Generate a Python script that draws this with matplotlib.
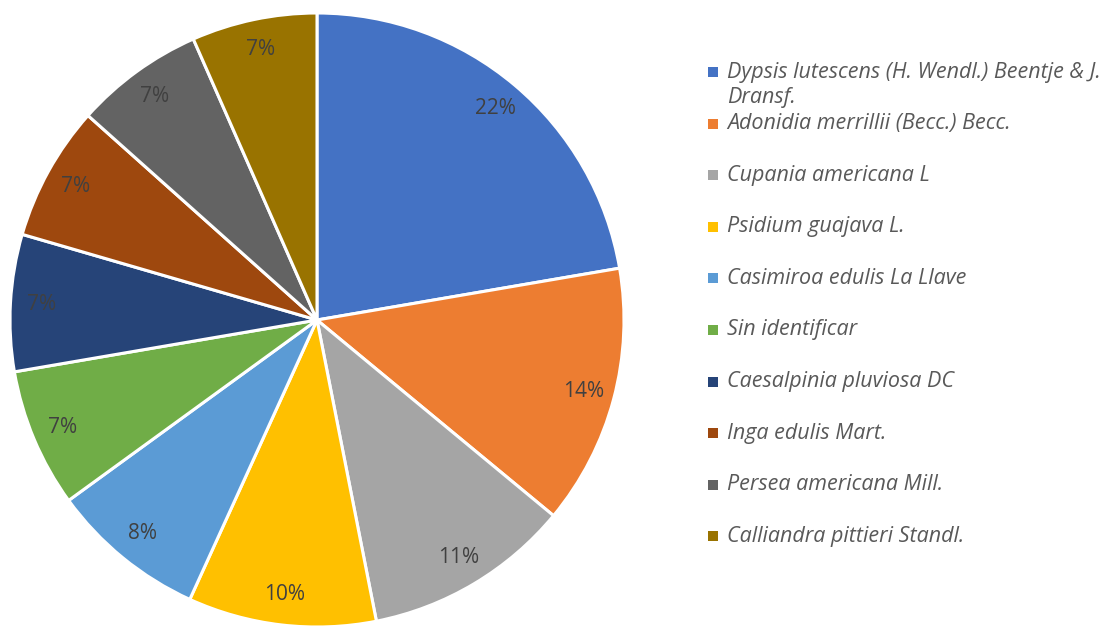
import matplotlib
matplotlib.use("Agg")
import matplotlib.pyplot as plt
from matplotlib.patches import Rectangle

species = [
    "Dypsis lutescens (H. Wendl.) Beentje & J.\nDransf.",
    "Adonidia merrillii (Becc.) Becc.",
    "Cupania americana L",
    "Psidium guajava L.",
    "Casimiroa edulis La Llave",
    "Sin identificar",
    "Caesalpinia pluviosa DC",
    "Inga edulis Mart.",
    "Persea americana Mill.",
    "Calliandra pittieri Standl.",
]
shares = [22.3, 13.7, 10.9, 9.9, 8.2, 7.3, 7.2, 7.1, 6.8, 6.6]
colors = ["#4472C4", "#ED7D31", "#A5A5A5", "#FFC000", "#5B9BD5",
          "#70AD47", "#264478", "#9E480E", "#636363", "#997300"]

W, H = 1120, 627
fig = plt.figure(figsize=(W / 100, H / 100), dpi=100)
cx, cy, R = 317, 320, 307
ax = fig.add_axes([(cx - R) / W, (H - cy - R) / H, 2 * R / W, 2 * R / H])
wedges, texts, autotexts = ax.pie(
    shares, colors=colors, startangle=90, counterclock=False,
    autopct=lambda p: f"{p:.0f}%", pctdistance=0.9,
    wedgeprops=dict(edgecolor="white", linewidth=2.2),
    textprops=dict(color="#404040", fontsize=15, family="Open Sans"),
)
ax.set_aspect("equal")
ax.set_xlim(-1, 1)
ax.set_ylim(-1, 1)
ax.axis("off")

# legend
y0, dy = 72, 51.6
for i, (name, col) in enumerate(zip(species, colors)):
    y = y0 + i * dy
    fig.add_artist(Rectangle((708 / W, 1 - (y + 5) / H), 10 / W, 10 / H,
                             transform=fig.transFigure, color=col, lw=0))
    nlines = name.count("\n") + 1
    yc = y + (nlines - 1) * 13
    fig.text(727 / W, 1 - yc / H, name, ha="left", va="center",
             fontsize=15.5, style="italic", color="#595959", family="Open Sans",
             linespacing=1.25)

fig.savefig("out.png", dpi=100)
